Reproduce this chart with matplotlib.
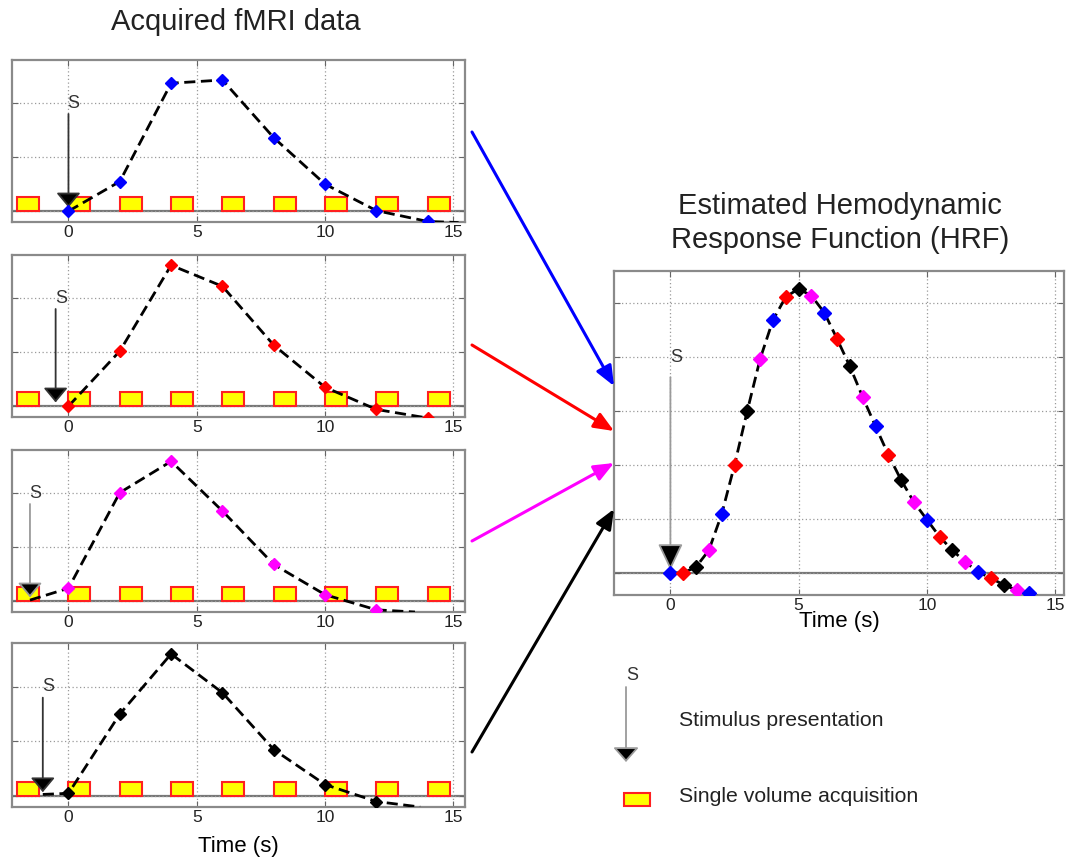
import matplotlib
matplotlib.use("Agg")
import matplotlib.pyplot as plt
import numpy as np
from matplotlib.patches import Rectangle

plt.rcParams['font.family'] = ['Liberation Sans', 'DejaVu Sans']

W, H = 1066, 861

# acquisition times (TR = 2 s) and the four acquired time courses
t_acq = [0, 2, 4, 6, 8, 10, 12, 14]
blue_y = [0.0, 0.55, 2.37, 2.43, 1.36, 0.50, 0.01, -0.19]
red_y = [0.0, 1.02, 2.61, 2.22, 1.13, 0.35, -0.06, -0.22]
magenta_y = [0.24, 2.01, 2.59, 1.67, 0.68, 0.12, -0.16]
black_y = [0.05, 1.50, 2.60, 1.89, 0.85, 0.21, -0.10]

# where the dashed curve starts / ends beyond the sampled points
lead = {'blue': None, 'red': None, 'magenta': (-1.5, 0.02), 'black': (-1.0, 0.03)}
tail = {'blue': (15.2, -0.21), 'red': (14.4, -0.23), 'magenta': (13.5, -0.2), 'black': (13.7, -0.2)}

# stimulus onset for each run
stim_t = {'blue': 0.0, 'red': -0.5, 'magenta': -1.5, 'black': -1.0}
stim_col = {'blue': '#333333', 'red': '#333333', 'magenta': '#9a9a9a', 'black': '#333333'}

# single volume acquisitions
vol_t = [-2, 0, 2, 4, 6, 8, 10, 12, 14]
vol_len = 0.85

# estimated HRF (every 0.5 s, interleaved runs)
hrf_t = [0, 0.5, 1, 1.5, 2, 2.5, 3, 3.5, 4, 4.5, 5, 5.5, 6, 6.5, 7, 7.5, 8, 8.5,
         9, 9.5, 10, 10.5, 11, 11.5, 12, 12.5, 13, 13.5, 14]
hrf_y = [0.0, 0.0, 0.11, 0.42, 1.09, 2.0, 3.01, 3.97, 4.69, 5.12, 5.27, 5.14, 4.83,
         4.34, 3.83, 3.26, 2.72, 2.19, 1.72, 1.31, 0.99, 0.67, 0.42, 0.20, 0.02,
         -0.10, -0.22, -0.32, -0.37]
hrf_tail = (14.3, -0.42)
hrf_cols = ['blue', 'red', 'black', 'magenta']

colors = {'blue': '#0000ff', 'red': '#ff0000', 'magenta': '#ff00ff', 'black': '#000000'}
series = [('blue', blue_y), ('red', red_y), ('magenta', magenta_y), ('black', black_y)]

SPINE = '#8a8a8a'


def rect(l, t, r, b):
    return [l / W, 1 - b / H, (r - l) / W, (b - t) / H]


def style_axes(ax):
    for s in ax.spines.values():
        s.set_color(SPINE)
        s.set_linewidth(1.6)
    ax.tick_params(direction='in', top=True, right=True, length=4, color='#666666',
                   labelleft=False, labelsize=12.5, pad=2, labelcolor='#222222')
    ax.set_xticks([0, 5, 10, 15])
    ax.grid(True, linestyle=(0, (1, 2)), color='#9a9a9a', linewidth=0.9)
    ax.axhline(0, color='#777777', lw=1.6, zorder=1.5)


def stim_arrow(ax, x, y_top, y_tip, col, s_dx, s_y, hl=0.9, hw=0.75):
    ax.annotate('', xy=(x, y_tip), xytext=(x, y_top),
                arrowprops=dict(arrowstyle='-|>,head_length=%g,head_width=%g' % (hl, hw),
                                mutation_scale=10, lw=1.3, ec=col, fc='black',
                                shrinkA=0, shrinkB=0), zorder=4)
    ax.text(x + s_dx, s_y, 'S', ha='center', va='center', fontsize=13, color='#333333')


fig = plt.figure(figsize=(W / 100, H / 100), dpi=100)

panel_px = [(60, 222), (255, 417), (450, 612), (643, 807)]
for (name, yv), (top, bot) in zip(series, panel_px):
    ax = fig.add_axes(rect(12, top, 465, bot))
    ax.set_xlim(-2.2, 15.45)
    ax.set_ylim(-0.2, 2.8)
    ax.set_yticks([0, 1, 2])
    style_axes(ax)

    for t0 in vol_t:
        ax.add_patch(Rectangle((t0, 0.0), vol_len, 0.26, facecolor='#ffff00',
                               edgecolor='#ff2020', lw=1.5, zorder=2))

    tt = list(t_acq[:len(yv)])
    yy = list(yv)
    if lead[name]:
        tt = [lead[name][0]] + tt
        yy = [lead[name][1]] + yy
    tt.append(tail[name][0])
    yy.append(tail[name][1])
    ax.plot(tt, yy, color='black', lw=2, linestyle=(0, (4, 2)), zorder=3)
    ax.plot(t_acq[:len(yv)], yv, linestyle='none', marker='D', ms=6.5,
            color=colors[name], zorder=5)

    stim_arrow(ax, stim_t[name], 1.8, 0.07, stim_col[name], 0.2, 2.0)

    if name == 'black':
        ax.set_xlabel('Time (s)', fontsize=16, labelpad=8)

# estimated HRF
axh = fig.add_axes(rect(614, 271, 1064, 595))
axh.set_xlim(-2.2, 15.35)
axh.set_ylim(-0.41, 5.6)
axh.set_yticks([0, 1, 2, 3, 4, 5])
style_axes(axh)
axh.plot(list(hrf_t) + [hrf_tail[0]], list(hrf_y) + [hrf_tail[1]], color='black', lw=2,
         linestyle=(0, (4, 2)), zorder=3)
for i, (t, y) in enumerate(zip(hrf_t, hrf_y)):
    axh.plot(t, y, marker='D', ms=7, color=colors[hrf_cols[i % 4]], zorder=5)
stim_arrow(axh, 0.0, 3.63, 0.05, '#9a9a9a', 0.23, 4.0, hl=1.65, hw=0.78)
axh.set_xlabel('Time (s)', fontsize=16, labelpad=-1)

# overlay in pixel coordinates for titles, arrows and legend
ov = fig.add_axes([0, 0, 1, 1], zorder=10)
ov.set_xlim(0, W)
ov.set_ylim(H, 0)
ov.axis('off')
ov.patch.set_alpha(0)

ov.text(236, 22, 'Acquired fMRI data', ha='center', va='center', fontsize=21, color='#222222')
ov.text(840, 223, 'Estimated Hemodynamic\nResponse Function (HRF)', ha='center', va='center',
        fontsize=21, color='#222222', linespacing=1.27)

links = [('blue', (472, 132), (614, 386)),
         ('red', (472, 345), (614, 431)),
         ('magenta', (472, 541), (614, 463)),
         ('black', (472, 752), (614, 509))]
for name, p0, p1 in links:
    ov.annotate('', xy=p1, xytext=p0,
                arrowprops=dict(arrowstyle='-|>,head_length=1.2,head_width=0.5',
                                mutation_scale=10, lw=2.2, color=colors[name],
                                shrinkA=0, shrinkB=0))

# legend
ov.annotate('', xy=(626, 762), xytext=(626, 687),
            arrowprops=dict(arrowstyle='-|>,head_length=0.9,head_width=0.8',
                            mutation_scale=10, lw=1.3, ec='#9a9a9a', fc='black',
                            shrinkA=0, shrinkB=0))
ov.text(632, 676, 'S', ha='center', va='center', fontsize=13, color='#333333')
ov.text(679, 720, 'Stimulus presentation', ha='left', va='center', fontsize=15.3, color='#222222')
ov.add_patch(Rectangle((624, 793), 26, 13, facecolor='#ffff00', edgecolor='#ff2020', lw=1.5))
ov.text(679, 796, 'Single volume acquisition', ha='left', va='center', fontsize=15.3, color='#222222')

fig.savefig('out.png', dpi=100)
